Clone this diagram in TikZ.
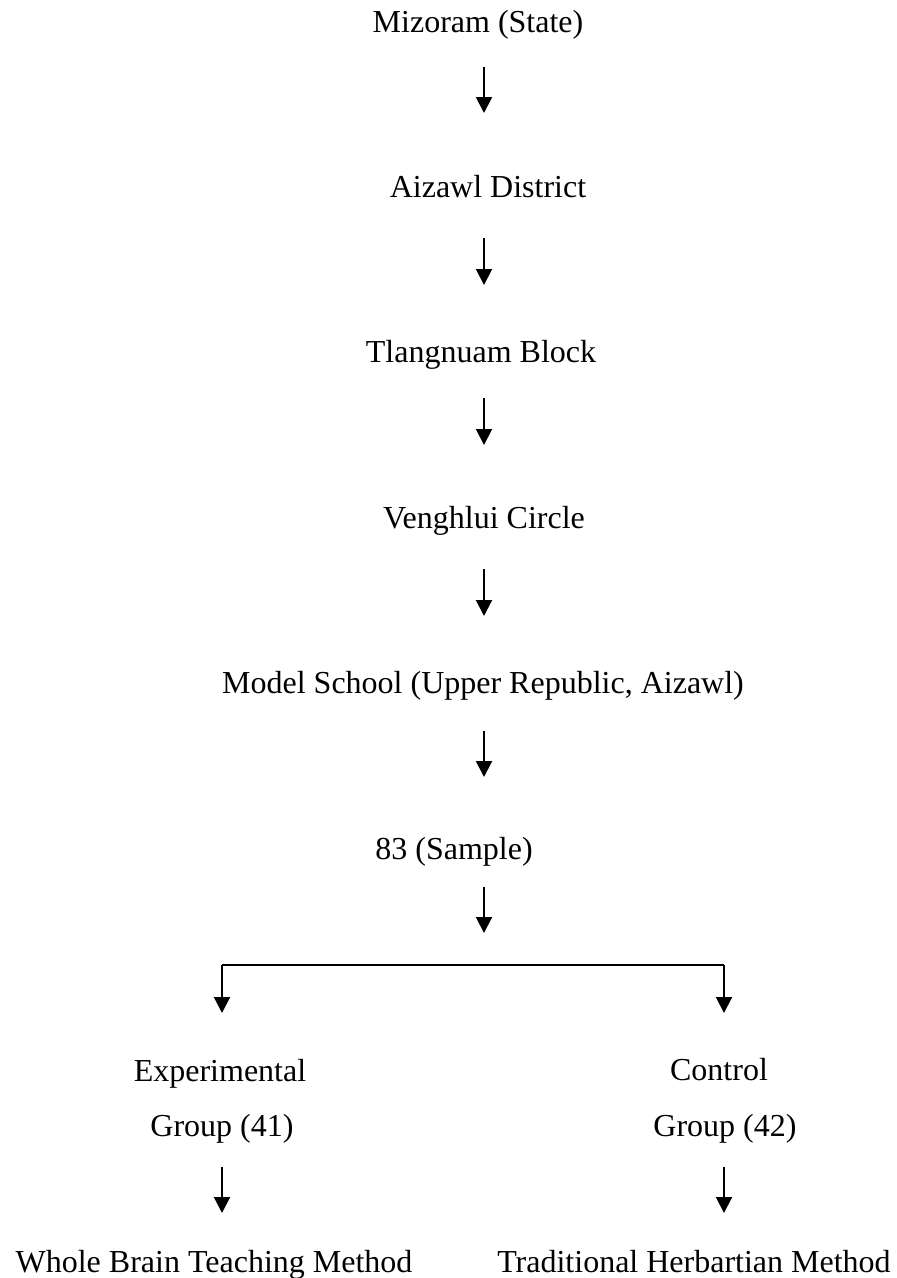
\documentclass[tikz,border=0pt]{standalone}
\usepackage{fontspec}
\setmainfont{Liberation Serif}
\usetikzlibrary{arrows.meta}
\begin{document}
\begin{tikzpicture}[x=1pt,y=-1pt,
  lbl/.style={anchor=base,inner sep=0pt,font=\fontsize{32}{38}\selectfont},
  arr/.style={line width=2pt,-{Triangle[width=16pt,length=16pt]}},
  ln/.style={line width=2pt}]
\useasboundingbox (0,0) rectangle (897,1278);
\node[lbl] (mizo) at (478,32) {Mizoram (State)};
\node[lbl] (aiz) at (488,197) {Aizawl District};
\node[lbl] (tla) at (481,362) {Tlangnuam Block};
\node[lbl] (ven) at (484,528) {Venghlui Circle};
\node[lbl] (mod) at (483,693) {Model School (Upper Republic, Aizawl)};
\node[lbl] (smp) at (454,859) {83 (Sample)};
\node[lbl] (exp1) at (220,1081) {Experimental};
\node[lbl] (exp2) at (222,1136) {Group (41)};
\node[lbl] (con1) at (719,1080) {Control};
\node[lbl] (con2) at (725,1136) {Group (42)};
\node[lbl] (wb) at (214,1272) {Whole Brain Teaching Method};
\node[lbl] (th) at (694,1272) {Traditional Herbartian Method};
\coordinate (a1s) at (484,67);  \coordinate (a1e) at (484,113);
\coordinate (a2s) at (484,238); \coordinate (a2e) at (484,285);
\coordinate (a3s) at (484,398); \coordinate (a3e) at (484,445);
\coordinate (a4s) at (484,569); \coordinate (a4e) at (484,616);
\coordinate (a5s) at (484,731); \coordinate (a5e) at (484,777);
\coordinate (a6s) at (484,887); \coordinate (a6e) at (484,933);
\coordinate (bl) at (222,965); \coordinate (br) at (724,965);
\coordinate (ble) at (222,1013); \coordinate (bre) at (724,1013);
\coordinate (l2s) at (222,1167); \coordinate (l2e) at (222,1213);
\coordinate (r2s) at (724,1167); \coordinate (r2e) at (724,1213);
\draw[arr] (a1s) -- (a1e);
\draw[arr] (a2s) -- (a2e);
\draw[arr] (a3s) -- (a3e);
\draw[arr] (a4s) -- (a4e);
\draw[arr] (a5s) -- (a5e);
\draw[arr] (a6s) -- (a6e);
\draw[ln] (bl) -- (br);
\draw[arr] (bl) -- (ble);
\draw[arr] (br) -- (bre);
\draw[arr] (l2s) -- (l2e);
\draw[arr] (r2s) -- (r2e);
\end{tikzpicture}
\end{document}
